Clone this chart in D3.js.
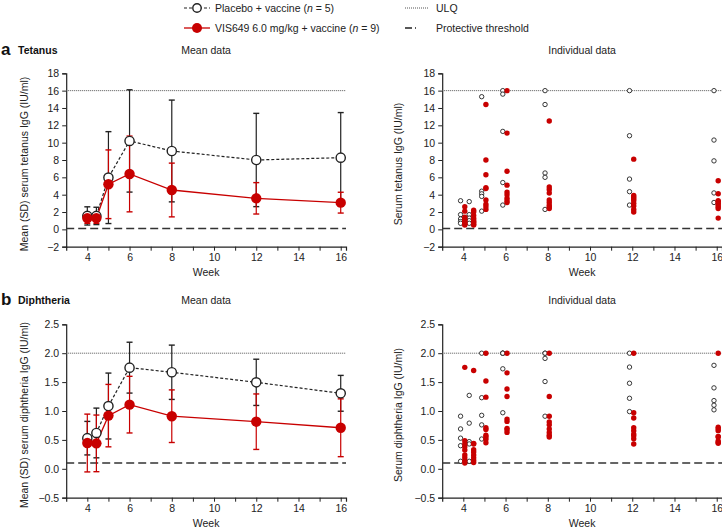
<!DOCTYPE html>
<html><head><meta charset="utf-8">
<script src="https://cdn.jsdelivr.net/npm/d3@7"></script>
<style>
body{margin:0;background:#fff;}
svg{display:block;font-family:"Liberation Sans",Arial,sans-serif;}
</style></head>
<body>
<svg id="c" width="722" height="531"></svg>
<script>
// ---------- DATA ----------
const weeks = [4, 4.43, 5, 6, 8, 12, 16];
const xTicks = [4, 6, 8, 10, 12, 14, 16];
const tetTicks = [-2, 0, 2, 4, 6, 8, 10, 12, 14, 16, 18];
const dipTicks = [-0.5, 0, 0.5, 1.0, 1.5, 2.0, 2.5];

// Tetanus mean (SD)
const tetPlaceboMean = [1.55, 1.55, 5.97, 10.2, 9.04, 8.0, 8.27];
const tetPlaceboSD   = [1.05, 1.0, 5.3, 5.9, 5.87, 5.38, 5.2];
const tetVisMean     = [1.3, 1.3, 5.2, 6.39, 4.54, 3.58, 3.08];
const tetVisSD       = [0.6, 0.6, 3.96, 4.37, 3.1, 1.81, 1.2];

// Diphtheria mean (SD)
const dipPlaceboMean = [0.53, 0.62, 1.086, 1.75, 1.67, 1.496, 1.306];
const dipPlaceboSD   = [0.29, 0.43, 0.57, 0.44, 0.47, 0.40, 0.31];
const dipVisMean     = [0.446, 0.44, 0.92, 1.11, 0.91, 0.815, 0.71];
const dipVisSD       = [0.50, 0.49, 0.54, 0.49, 0.455, 0.48, 0.50];

// Tetanus individual (per week in order of `weeks`)
const tetPlaceboInd = [
  [3.3, 1.7, 1.2, 0.9, 0.7],
  [3.2, 1.7, 1.3, 1.0, 0.7],
  [15.3, 4.4, 4.1, 3.8, 2.1],
  [16, 15.6, 11.3, 5.4, 2.8],
  [16, 14.4, 6.5, 6.0, 2.3],
  [16, 10.8, 5.8, 4.35, 2.8],
  [16, 10.3, 7.9, 4.2, 3.1]
];
const tetVisInd = [
  [2.6, 2.1, 1.4, 1.2, 1.0, 0.9, 0.7, 0.6, 0.5],
  [2.2, 2.0, 1.6, 1.3, 1.1, 0.9, 0.8, 0.6, 0.5],
  [14.4, 8.0, 6.3, 4.8, 4.7, 3.4, 2.9, 2.6, 2.3],
  [16, 11.1, 6.7, 5.1, 4.3, 4.0, 3.6, 3.3, 3.1],
  [12.5, 4.9, 4.6, 4.2, 3.4, 3.1, 2.8, 2.6, 2.4],
  [8.1, 3.9, 3.7, 3.5, 3.3, 3.0, 2.7, 2.3, 2.0],
  [5.6, 4.1, 3.3, 3.2, 3.0, 2.8, 2.6, 2.4, 1.3]
];
// Diphtheria individual
const dipPlaceboInd = [
  [0.91, 0.69, 0.53, 0.40, 0.13],
  [1.27, 0.79, 0.47, 0.43, 0.13],
  [2.0, 1.23, 0.925, 0.76, 0.515],
  [2.0, 2.0, 2.0, 1.73, 0.97],
  [2.0, 2.0, 1.91, 1.51, 0.91],
  [2.0, 1.76, 1.48, 1.22, 0.99],
  [1.79, 1.40, 1.18, 1.10, 1.02]
];
const dipVisInd = [
  [1.755, 0.486, 0.43, 0.38, 0.325, 0.24, 0.19, 0.14, 0.10],
  [1.70, 0.44, 0.43, 0.33, 0.29, 0.24, 0.19, 0.15, 0.11],
  [2.0, 1.52, 1.24, 0.71, 0.68, 0.58, 0.55, 0.51, 0.45],
  [2.0, 1.66, 1.38, 1.25, 0.86, 0.82, 0.70, 0.67, 0.63],
  [2.0, 1.25, 0.91, 0.81, 0.76, 0.69, 0.63, 0.58, 0.55],
  [2.0, 0.97, 0.88, 0.71, 0.66, 0.60, 0.57, 0.52, 0.43],
  [2.0, 0.72, 0.69, 0.66, 0.56, 0.55, 0.48, 0.46, 0.44]
];
const ulqTet = 16, thrTet = 0.1, ulqDip = 2.0, thrDip = 0.1;
const placeboLabel = "Placebo + vaccine (", visLabel = "VIS649 6.0 mg/kg + vaccine (";
const nPlacebo = 5, nVis = 9;

// ---------- DRAW ----------
const RED = "#c80000";
const svg = d3.select("#c");
const fmtMinus = v => (v < 0 ? "\u2212" + Math.abs(v) : String(v));

function panel(opts) {
  const g = svg.append("g");
  const x = d3.scaleLinear().domain([3, 16.25]).range([opts.x0, opts.x1]);
  const y = d3.scaleLinear().domain(opts.ydom).range([opts.y0, opts.y1]);
  // axes
  const ya = g.append("g").attr("transform", `translate(${opts.x0},0)`)
    .call(d3.axisLeft(y).tickValues(opts.yticks).tickSize(4).tickPadding(3).tickFormat(opts.yfmt));
  const xa = g.append("g").attr("transform", `translate(0,${opts.y0})`)
    .call(d3.axisBottom(x).tickValues(d3.range(4, 17)).tickSize(4).tickPadding(3)
      .tickFormat(d => xTicks.includes(d) ? d : ""));
  [ya, xa].forEach(a => {
    a.selectAll("path").attr("stroke", "#222").attr("stroke-width", 1.2);
    a.selectAll("line").attr("stroke", "#222").attr("stroke-width", 1);
    a.selectAll("text").attr("font-size", 10.5).attr("fill", "#222")
      .attr("font-family", '"Liberation Sans",Arial,sans-serif');
  });
  // reference lines
  g.append("line").attr("x1", opts.x0).attr("x2", opts.x1)
    .attr("y1", y(opts.ulq)).attr("y2", y(opts.ulq))
    .attr("stroke", "#555").attr("stroke-width", 1).attr("stroke-dasharray", "1,1");
  g.append("line").attr("x1", opts.x0).attr("x2", opts.x1)
    .attr("y1", y(opts.thr)).attr("y2", y(opts.thr))
    .attr("stroke", "#333").attr("stroke-width", 1.3).attr("stroke-dasharray", "8,4");
  // titles
  g.append("text").attr("x", (opts.x0 + opts.x1) / 2).attr("y", opts.titleY)
    .attr("text-anchor", "middle").attr("font-size", 10.5).attr("fill", "#222").text(opts.title);
  g.append("text").attr("x", (opts.x0 + opts.x1) / 2).attr("y", opts.y0 + 29)
    .attr("text-anchor", "middle").attr("font-size", 10.5).attr("fill", "#222").text("Week");
  g.append("text").attr("transform", `translate(${opts.ylabX},${(opts.y0 + opts.y1) / 2 + 4}) rotate(-90)`)
    .attr("text-anchor", "middle").attr("font-size", 10.5).attr("fill", "#222").text(opts.ylab);
  return { g, x, y };
}

function meanPlot(p, pm, psd, vm, vsd) {
  const { g, x, y } = p;
  const cap = 3;
  function ebars(mean, sd, color) {
    weeks.forEach((w, i) => {
      const cx = x(w), top = y(mean[i] + sd[i]), bot = y(mean[i] - sd[i]);
      g.append("line").attr("x1", cx).attr("x2", cx).attr("y1", top).attr("y2", bot)
        .attr("stroke", color).attr("stroke-width", 1.2);
      [top, bot].forEach(yy => g.append("line").attr("x1", cx - cap).attr("x2", cx + cap)
        .attr("y1", yy).attr("y2", yy).attr("stroke", color).attr("stroke-width", 1.4));
    });
  }
  ebars(pm, psd, "#222");
  ebars(vm, vsd, RED);
  const line = d3.line().x((d, i) => x(weeks[i])).y(d => y(d));
  g.append("path").attr("d", line(pm)).attr("fill", "none").attr("stroke", "#222")
    .attr("stroke-width", 1.2).attr("stroke-dasharray", "3,2");
  g.append("path").attr("d", line(vm)).attr("fill", "none").attr("stroke", RED)
    .attr("stroke-width", 1.3);
  g.selectAll(null).data(pm).enter().append("circle")
    .attr("cx", (d, i) => x(weeks[i])).attr("cy", d => y(d)).attr("r", 4.6)
    .attr("fill", "#fff").attr("stroke", "#222").attr("stroke-width", 1.4);
  g.selectAll(null).data(vm).enter().append("circle")
    .attr("cx", (d, i) => x(weeks[i])).attr("cy", d => y(d)).attr("r", 5.2)
    .attr("fill", RED);
}

function indPlot(p, pInd, vInd) {
  const { g, x, y } = p;
  const pts = [];
  pInd.forEach((arr, i) => arr.forEach(v => pts.push({ w: weeks[i] + (i === 1 ? -0.15 : -0.13), v, grp: 0 })));
  vInd.forEach((arr, i) => arr.forEach(v => pts.push({ w: weeks[i] + (i === 1 ? 0.06 : 0.07), v, grp: 1 })));
  g.selectAll(null).data(pts.filter(d => d.grp === 0)).enter().append("circle")
    .attr("cx", d => x(d.w)).attr("cy", d => y(d.v)).attr("r", 2.2)
    .attr("fill", "#fff").attr("stroke", "#222").attr("stroke-width", 0.9);
  g.selectAll(null).data(pts.filter(d => d.grp === 1)).enter().append("circle")
    .attr("cx", d => x(d.w)).attr("cy", d => y(d.v)).attr("r", 2.7)
    .attr("fill", RED);
}

const tetY = { ydom: [-2, 18], y0: 246.7, y1: 73.3, yticks: tetTicks, yfmt: fmtMinus, ulq: ulqTet, thr: thrTet, titleY: 54 };
const dipY = { ydom: [-0.5, 2.5], y0: 497.7, y1: 324.3, yticks: dipTicks, yfmt: v => (v < 0 ? "\u2212" : "") + d3.format(".1f")(Math.abs(v)), ulq: ulqDip, thr: thrDip, titleY: 304 };

const pa1 = panel(Object.assign({}, tetY, { x0: 66.2, x1: 346, title: "Mean data", ylab: "Mean (SD) serum tetanus IgG (IU/ml)", ylabX: 28 }));
meanPlot(pa1, tetPlaceboMean, tetPlaceboSD, tetVisMean, tetVisSD);
const pa2 = panel(Object.assign({}, tetY, { x0: 442.2, x1: 722, title: "Individual data", ylab: "Serum tetanus IgG (IU/ml)", ylabX: 402 }));
indPlot(pa2, tetPlaceboInd, tetVisInd);
const pb1 = panel(Object.assign({}, dipY, { x0: 66.2, x1: 346, title: "Mean data", ylab: "Mean (SD) serum diphtheria IgG (IU/ml)", ylabX: 28 }));
meanPlot(pb1, dipPlaceboMean, dipPlaceboSD, dipVisMean, dipVisSD);
const pb2 = panel(Object.assign({}, dipY, { x0: 442.2, x1: 722, title: "Individual data", ylab: "Serum diphtheria IgG (IU/ml)", ylabX: 402 }));
indPlot(pb2, dipPlaceboInd, dipVisInd);

// panel letters
[["a", "Tetanus", 54], ["b", "Diphtheria", 304]].forEach(([l, t, yy]) => {
  svg.append("text").attr("x", 1).attr("y", yy + 1).attr("font-size", 17).attr("font-weight", "bold").attr("fill", "#111").text(l);
  svg.append("text").attr("x", 18).attr("y", yy).attr("font-size", 10.5).attr("font-weight", "bold").attr("fill", "#111").text(t);
});

// legend
const lg = svg.append("g");
function legText(xx, yy, pre, n) {
  const t = lg.append("text").attr("x", xx).attr("y", yy + 4).attr("font-size", 10.5).attr("fill", "#222");
  t.append("tspan").text(pre);
  if (n !== undefined) {
    t.append("tspan").attr("font-style", "italic").text("n");
    t.append("tspan").text(" = " + n + ")");
  }
}
lg.append("line").attr("x1", 184).attr("x2", 210).attr("y1", 8).attr("y2", 8)
  .attr("stroke", "#222").attr("stroke-width", 1.2).attr("stroke-dasharray", "3,2");
lg.append("circle").attr("cx", 197).attr("cy", 8).attr("r", 4.2).attr("fill", "#fff").attr("stroke", "#222").attr("stroke-width", 1.4);
legText(215, 8, placeboLabel, nPlacebo);
lg.append("line").attr("x1", 184).attr("x2", 210).attr("y1", 28).attr("y2", 28)
  .attr("stroke", RED).attr("stroke-width", 1.3);
lg.append("circle").attr("cx", 197).attr("cy", 28).attr("r", 5).attr("fill", RED);
legText(215, 28, visLabel, nVis);
lg.append("line").attr("x1", 405).attr("x2", 428).attr("y1", 8).attr("y2", 8)
  .attr("stroke", "#555").attr("stroke-width", 1).attr("stroke-dasharray", "1,1");
legText(436, 8, "ULQ");
lg.append("line").attr("x1", 405).attr("x2", 428).attr("y1", 28).attr("y2", 28)
  .attr("stroke", "#222").attr("stroke-width", 1.3).attr("stroke-dasharray", "7,3,1,100");
legText(436, 28, "Protective threshold");
</script>
</body></html>
